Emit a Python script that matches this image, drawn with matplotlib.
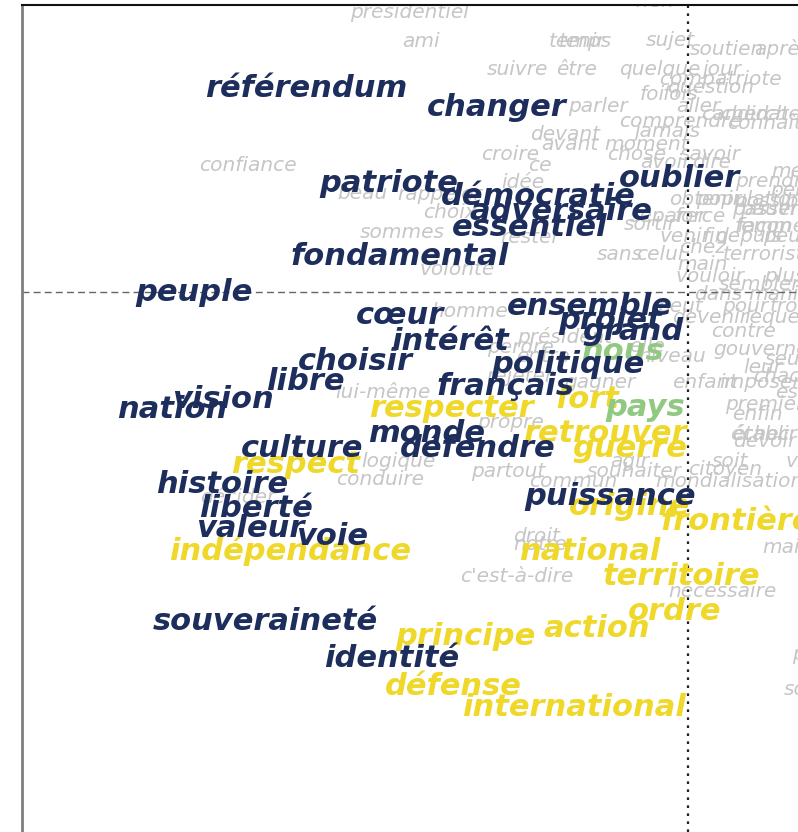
import matplotlib
matplotlib.use("Agg")
import matplotlib.pyplot as plt

# ---- data: word coordinates on the two factorial axes ----
navy_words = ["référendum", "changer", "patriote", "oublier", "démocratie", "adversaire",
              "essentiel", "fondamental", "peuple", "cœur", "ensemble", "projet", "grand",
              "intérêt", "choisir", "politique", "libre", "français", "vision", "nation",
              "monde", "culture", "défendre", "histoire", "puissance", "liberté", "valeur",
              "voie", "souveraineté", "identité"]
navy_x = [-3.82, -1.91, -2.99, -0.08, -1.50, -1.27, -1.58, -2.88, -4.94, -2.88, -0.98, -0.78,
          -0.55, -2.38, -3.33, -1.20, -3.83, -1.83, -4.65, -5.16, -2.61, -3.86, -2.10, -4.66,
          -0.78, -4.32, -4.38, -3.56, -4.23, -2.96]
navy_y = [1.95, 1.76, 1.00, 1.05, 0.87, 0.72, 0.56, 0.27, -0.09, -0.32, -0.23, -0.37, -0.48,
          -0.58, -0.78, -0.81, -0.98, -1.03, -1.16, -1.26, -1.50, -1.65, -1.65, -2.01, -2.13,
          -2.25, -2.45, -2.53, -3.38, -3.75]

yellow_words = ["fort", "respecter", "retrouver", "guerre", "respect", "origine", "frontière",
                "national", "indépendance", "territoire", "ordre", "action", "principe",
                "défense", "international"]
yellow_x = [-1.01, -2.37, -0.83, -0.58, -3.92, -0.58, 0.49, -0.98, -3.98, -0.07, -0.13, -0.91,
            -2.23, -2.35, -1.14]
yellow_y = [-1.16, -1.25, -1.50, -1.65, -1.81, -2.23, -2.38, -2.68, -2.68, -2.93, -3.28, -3.45,
            -3.53, -4.03, -4.24]

green_words = ["nous", "pays"]
green_x = [-0.66, -0.43]
green_y = [-0.68, -1.24]

gray_words = ["présidentiel", "rien", "ami", "temps", "tenir", "sujet", "soutien", "après",
              "suivre", "être", "quelque", "jour", "compatriote", "question", "parler", "foi",
              "fois", "aller", "comprendre", "candidat", "chercher", "connaître", "devant",
              "jamais", "avant", "moment", "croire", "ce", "chose", "savoir", "avoir", "dire",
              "confiance", "beau", "rappeler", "idée", "prendre", "mettre", "choix", "sommes",
              "rester", "sortir", "séparer", "force", "obtenir", "population", "possible",
              "passer", "pauvre", "penser", "façon", "femme", "venir", "fin", "depuis", "peu",
              "chez", "terroriste", "sans", "celui", "main", "vouloir", "plus", "sembler",
              "dans", "manière", "volonté", "homme", "peut", "pour", "trop", "devenir",
              "lequel", "contre", "président", "elle", "perdre", "entre", "niveau",
              "gouvernement", "seul", "leur", "chacun", "rejeter", "gagner", "enfant",
              "imposer", "est", "lui-même", "premier", "enfin", "propre", "établir", "échec",
              "devoir", "logique", "agir", "soit", "vie", "partout", "souhaiter", "citoyen",
              "conduire", "commun", "mondialisation", "décider", "droit", "notre",
              "maintenant", "c'est-à-dire", "nécessaire", "pouvoir", "société"]
gray_x = [-2.78, -0.33, -2.67, -1.08, -1.06, -0.18, 0.39, 0.94, -1.71, -1.11, -0.28, 0.34,
          0.32, 0.23, -0.90, -0.36, -0.08, 0.10, -0.08, 0.57, 0.77, 0.87, -1.23, -0.21, -1.18,
          -0.41, -1.78, -1.48, -0.51, 0.22, -0.23, 0.24, -4.40, -3.26, -2.48, -1.65, 0.87,
          1.17, -2.38, -2.86, -1.58, -0.38, -0.20, 0.12, 0.17, 0.62, 0.87, 0.77, 0.87, 1.17,
          0.77, 0.82, -0.03, 0.27, 0.60, 0.94, 0.15, 0.82, -0.68, -0.28, 0.14, 0.22, 0.97,
          0.72, 0.30, 1.02, -2.31, -2.18, -0.08, 0.57, 1.02, 0.22, 0.87, 0.55, -1.23, -0.41,
          -1.68, -1.45, -0.16, 0.99, 0.97, 0.75, 1.02, -1.68, -0.88, 0.17, 0.72, 1.02,
          -3.05, 0.77, 0.69, -1.78, 0.77, 0.72, 0.77, -2.90, -0.58, 0.42, 1.12, -1.80, -0.54,
          0.37, -3.08, -1.15, 0.41, -4.50, -1.51, -1.48, 1.32, -1.71, 0.34, 1.42, 1.32]
gray_y = [2.74, 2.85, 2.45, 2.45, 2.45, 2.46, 2.37, 2.37, 2.17, 2.17, 2.17, 2.17, 2.07, 1.99,
          1.80, 1.92, 1.92, 1.80, 1.65, 1.72, 1.72, 1.63, 1.52, 1.55, 1.42, 1.42, 1.32, 1.21,
          1.32, 1.32, 1.24, 1.24, 1.21, 0.93, 0.92, 1.04, 1.05, 1.15, 0.74, 0.54, 0.49, 0.62,
          0.70, 0.70, 0.87, 0.87, 0.85, 0.77, 0.77, 0.96, 0.60, 0.60, 0.50, 0.50, 0.50, 0.50,
          0.39, 0.32, 0.32, 0.32, 0.22, 0.10, 0.10, 0.02, -0.08, -0.08, 0.17, -0.25, -0.20,
          -0.20, -0.20, -0.31, -0.31, -0.45, -0.51, -0.60, -0.61, -0.70, -0.70, -0.63, -0.73,
          -0.81, -0.90, -0.90, -0.96, -0.96, -0.96, -1.06, -1.06, -1.18, -1.28, -1.36, -1.48,
          -1.48, -1.55, -1.75, -1.75, -1.75, -1.75, -1.85, -1.85, -1.83, -1.93, -1.95, -1.95,
          -2.11, -2.50, -2.58, -2.61, -2.90, -3.05, -3.68, -4.03]

# ---- styling ----
NAVY = "#1d2e5c"
YELLOW = "#efd82a"
GREEN = "#92c982"
GRAY = "#c6c6c6"

fig = plt.figure(figsize=(7.98, 8.32), dpi=100)
ax = fig.add_axes([22 / 798, 0.0, 776 / 798, 827 / 832])
ax.set_xlim(-6.66, 1.10)
ax.set_ylim(-5.40, 2.87)
ax.set_xticks([])
ax.set_yticks([])
ax.spines["right"].set_visible(False)
ax.spines["bottom"].set_visible(False)
ax.spines["left"].set_color("#7f7f7f")
ax.spines["left"].set_linewidth(2.0)
ax.spines["top"].set_color("#111111")
ax.spines["top"].set_linewidth(1.5)

ax.axhline(0, color="#666666", lw=1.0, linestyle=(0, (5, 3)), zorder=2.5)
ax.axvline(0, color="#222222", lw=1.6, linestyle=(0, (1.2, 2.4)), zorder=2.5)

common = dict(family="DejaVu Sans", style="oblique", ha="center", va="baseline", clip_on=True)

for w, x, y in zip(gray_words, gray_x, gray_y):
    ax.text(x, y, w, color=GRAY, fontsize=14.5, fontweight="normal", zorder=2, **common)

for w, x, y in zip(yellow_words, yellow_x, yellow_y):
    ax.text(x, y, w, color=YELLOW, fontsize=22, fontweight="bold", zorder=3, **common)

for w, x, y in zip(green_words, green_x, green_y):
    ax.text(x, y, w, color=GREEN, fontsize=22, fontweight="bold", zorder=3, **common)

for w, x, y in zip(navy_words, navy_x, navy_y):
    ax.text(x, y, w, color=NAVY, fontsize=22, fontweight="bold", zorder=4, **common)

fig.savefig("out.png", dpi=100, facecolor="white")
